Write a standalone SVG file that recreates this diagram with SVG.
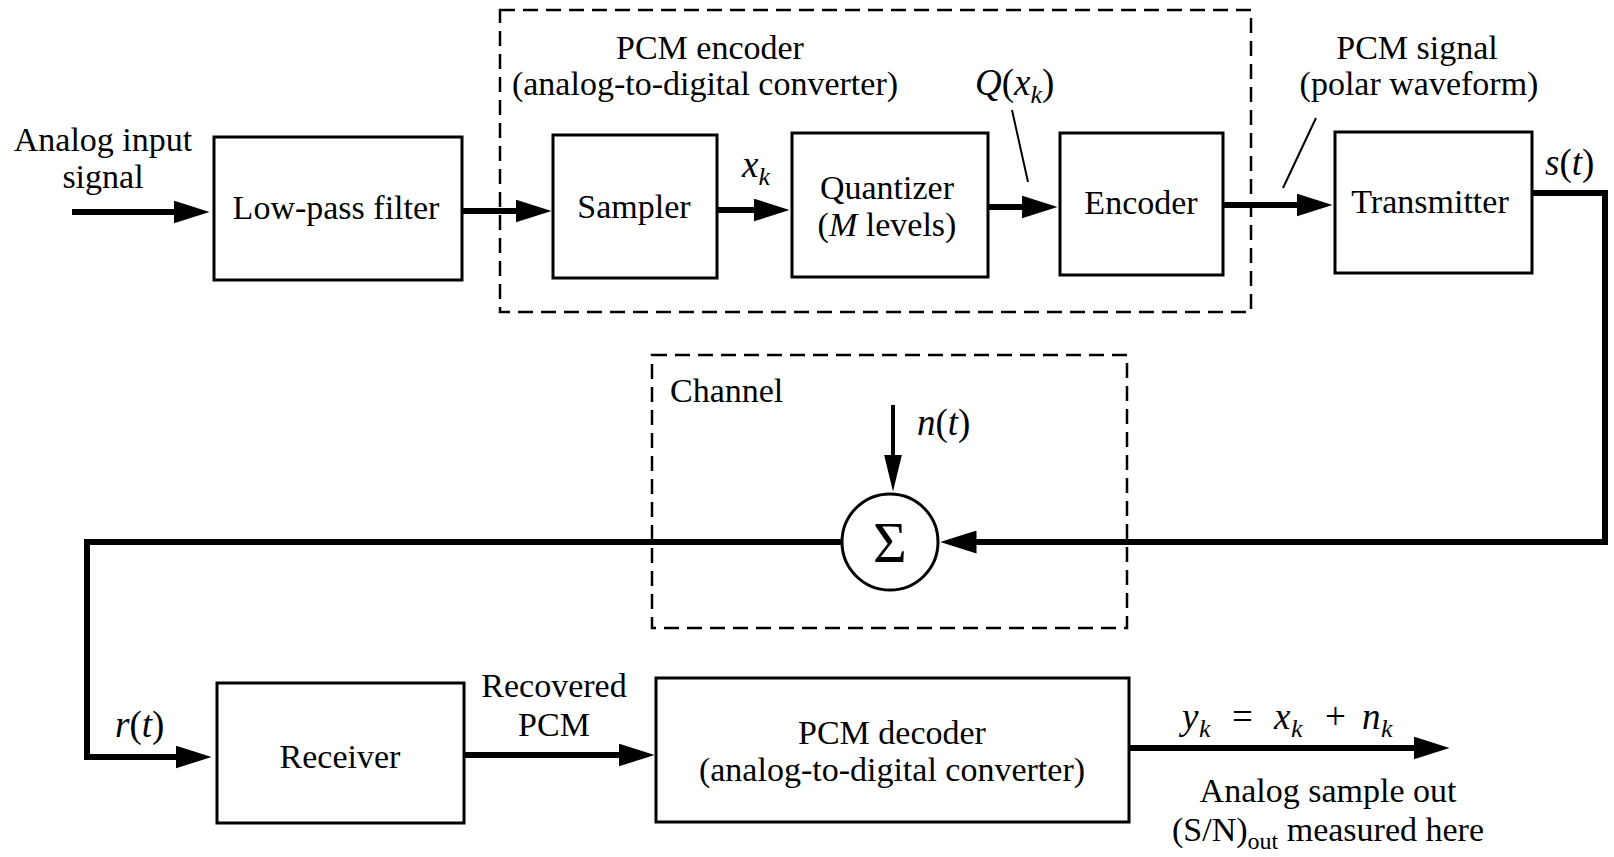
<svg xmlns="http://www.w3.org/2000/svg" width="1614" height="857" viewBox="0 0 1614 857">
<style>
text{font-family:"Liberation Serif","Times New Roman",serif;font-size:34px;fill:#000}
.c{text-anchor:middle}
.i{font-style:italic}
.m{font-size:37px}
.sub{font-style:italic;font-size:26px}
.big{font-size:58px}
.box{fill:#fff;stroke:#000;stroke-width:3}
.dash{fill:none;stroke:#000;stroke-width:2.5;stroke-dasharray:15 8}
.wire{fill:none;stroke:#000;stroke-width:6;marker-end:url(#ah)}
.noise{fill:none;stroke:#000;stroke-width:4;marker-end:url(#ahn)}
.lead{fill:none;stroke:#000;stroke-width:2}
</style>
<defs>
<marker id="ah" viewBox="0 0 36 23" refX="0.5" refY="11.5" markerWidth="36" markerHeight="23" markerUnits="userSpaceOnUse" orient="auto">
<path d="M0,0 L36,11.5 L0,23 z" fill="#000"/>
</marker>
<marker id="ahn" viewBox="0 0 37 18" refX="0.5" refY="9" markerWidth="37" markerHeight="18" markerUnits="userSpaceOnUse" orient="auto">
<path d="M0,0 L37,9 L0,18 z" fill="#000"/>
</marker>
</defs>
<rect width="1614" height="857" fill="#fff"/>

<g id="groups">
<rect id="pcm-encoder-group" class="dash" x="500" y="10" width="751" height="302"/>
<rect id="channel-group" class="dash" x="652" y="355" width="475" height="273"/>
<text x="710" y="59" class="c">PCM encoder</text>
<text x="705" y="95" class="c">(analog-to-digital converter)</text>
<text x="670" y="402">Channel</text>
</g>

<g id="connectors">
<path class="wire" d="M72,212 H174"/>
<path class="wire" d="M462,211 H516"/>
<path class="wire" d="M717,210 H754"/>
<path class="wire" d="M988,207 H1022"/>
<path class="wire" d="M1223,205 H1297"/>
<path class="wire" d="M1532,193 H1605 V542 H976"/>
<path class="wire" d="M842,542 H87 V757 H176"/>
<path class="wire" d="M464,755 H619"/>
<path class="wire" d="M1129,748 H1414"/>
<path class="noise" d="M893,405 V455"/>
<path class="lead" d="M1012,110 L1028,182"/>
<path class="lead" d="M1316,118 L1283,188"/>
</g>

<g id="labels">
<text x="103" y="151" class="c">Analog input</text>
<text x="103" y="188" class="c">signal</text>
<text x="742" y="177" class="m"><tspan class="i">x</tspan><tspan class="sub" dy="8">k</tspan></text>
<text x="975" y="95" class="m"><tspan class="i">Q</tspan>(<tspan class="i">x</tspan><tspan class="sub" dy="8">k</tspan><tspan dy="-8">)</tspan></text>
<text x="1417" y="59" class="c">PCM signal</text>
<text x="1419" y="95" class="c">(polar waveform)</text>
<text x="1545" y="175" class="m"><tspan class="i">s</tspan>(<tspan class="i">t</tspan>)</text>
<text x="917" y="435" class="m"><tspan class="i">n</tspan>(<tspan class="i">t</tspan>)</text>
<text x="115" y="737" class="m"><tspan class="i">r</tspan>(<tspan class="i">t</tspan>)</text>
<text x="554" y="697" class="c">Recovered</text>
<text x="554" y="736" class="c">PCM</text>
<text y="729" class="m"><tspan class="i" x="1182">y</tspan><tspan class="sub" x="1199" dy="8">k</tspan><tspan x="1232" dy="-8">=</tspan><tspan class="i" x="1274">x</tspan><tspan class="sub" x="1291" dy="8">k</tspan><tspan x="1325" dy="-8">+</tspan><tspan class="i" x="1362">n</tspan><tspan class="sub" x="1381" dy="8">k</tspan></text>
<text x="1328" y="802" class="c">Analog sample out</text>
<text x="1328" y="841" class="c">(S/N)<tspan font-size="24" dy="8">out</tspan><tspan dy="-8"> measured here</tspan></text>
</g>

<g id="lpf">
<rect class="box" x="214" y="137" width="248" height="143"/>
<text x="336" y="219" class="c">Low-pass filter</text>
</g>
<g id="sampler">
<rect class="box" x="553" y="135" width="164" height="143"/>
<text x="634" y="218" class="c">Sampler</text>
</g>
<g id="quantizer">
<rect class="box" x="792" y="133" width="196" height="144"/>
<text x="887" y="199" class="c">Quantizer</text>
<text x="887" y="236" class="c">(<tspan class="i">M</tspan> levels)</text>
</g>
<g id="encoder">
<rect class="box" x="1060" y="133" width="163" height="142"/>
<text x="1141" y="214" class="c">Encoder</text>
</g>
<g id="transmitter">
<rect class="box" x="1335" y="132" width="197" height="141"/>
<text x="1430" y="213" class="c">Transmitter</text>
</g>
<g id="sum">
<circle cx="890" cy="542" r="48" fill="#fff" stroke="#000" stroke-width="3"/>
<text x="890" y="562" class="c big">Σ</text>
</g>
<g id="receiver">
<rect class="box" x="217" y="683" width="247" height="140"/>
<text x="340" y="768" class="c">Receiver</text>
</g>
<g id="decoder">
<rect class="box" x="656" y="678" width="473" height="144"/>
<text x="892" y="744" class="c">PCM decoder</text>
<text x="892" y="781" class="c">(analog-to-digital converter)</text>
</g>
</svg>
